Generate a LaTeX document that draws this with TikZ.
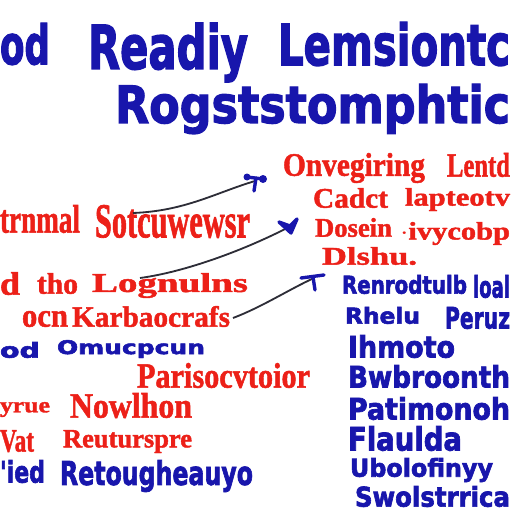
\documentclass[tikz,border=0pt]{standalone}
\usepackage{fontspec}
\usepackage{graphicx}
\newfontfamily\bluefont{DejaVu Sans}[BoldFont={DejaVu Sans Bold}, BoldFeatures={FakeBold=2.5}]
\newfontfamily\redfont{Liberation Serif}[BoldFont={Liberation Serif Bold}, BoldFeatures={FakeBold=1.5}]
\definecolor{inkblue}{RGB}{24,22,172}
\definecolor{inkred}{RGB}{236,32,24}
\definecolor{inkgray}{RGB}{45,45,55}
\newlength\pxunit
\setlength\pxunit{0.025cm}
\newcommand{\fitword}[3]{\resizebox*{#1\pxunit}{#2\pxunit}{#3}}
\tikzset{
	word/.style={anchor=north west, inner sep=0pt, outer sep=0pt},
	bluew/.style={word, text=inkblue, font=\bluefont\bfseries},
	redw/.style={word, text=inkred, font=\redfont\bfseries},
	link/.style={draw=inkgray, line width=1.3pt},
	tipmark/.style={draw=inkblue, line width=2.4pt, line cap=round, line join=round}
}

\begin{document}
\begin{tikzpicture}[x=0.025cm, y=-0.025cm]
	\fill[white] (0,0) rectangle (512,512);
	\useasboundingbox (0,0) rectangle (512,512);

	% title
	\node[bluew] (od) at (0,23) {\fitword{50}{42}{od}};
	\node[bluew] (readiy) at (88,23) {\fitword{160}{59}{Readiy}};
	\node[bluew] (lemsion) at (278,22) {\fitword{232}{44}{Lemsiontc}};
	\node[bluew] (rogst) at (115,84) {\fitword{395}{50}{Rogststomphtic}};

	% left column
	\node[redw] (trnmal) at (0,205) {\fitword{80}{28}{trnmal}};
	\node[redw] (sotcu) at (95,205) {\fitword{155}{33}{Sotcuwewsr}};
	\node[redw] (dd) at (0,272) {\fitword{20}{23}{d}};
	\node[redw] (tho) at (37,273) {\fitword{41}{21}{tho}};
	\node[redw] (lognul) at (92,273) {\fitword{156}{25}{Lognulns}};
	\node[redw] (ocn) at (22,311) {\fitword{46}{16}{ocn}};
	\node[redw] (karba) at (72,306) {\fitword{158}{21}{Karbaocrafs}};
	\node[bluew] (ond) at (0,342) {\fitword{40}{16}{od}};
	\node[bluew] (omuc) at (57,340) {\fitword{148}{18}{Omucpcun}};
	\node[redw] (parisoc) at (137,363) {\fitword{173}{25}{Parisocvtoior}};
	\node[redw] (yrue) at (0,402) {\fitword{50}{15}{yrue}};
	\node[redw] (nowl) at (70,393) {\fitword{122}{25}{Nowlhon}};
	\node[redw] (vat) at (0,430) {\fitword{34}{22}{Vat}};
	\node[redw] (reutur) at (63,430) {\fitword{129}{23}{Reuturspre}};
	\node[bluew] (ied) at (0,460) {\fitword{45}{23}{'ied}};
	\node[bluew] (retoug) at (60,460) {\fitword{193}{32}{Retougheauyo}};

	% right column, red
	\node[redw] (onveg) at (283,153) {\fitword{142}{30}{Onvegiring}};
	\node[redw] (lentd) at (447,153) {\fitword{63}{24}{Lentd}};
	\node[redw] (cadct) at (313,188) {\fitword{75}{20}{Cadct}};
	\node[redw] (lapte) at (405,188) {\fitword{105}{23}{lapteotv}};
	\node[redw] (dosein) at (315,218) {\fitword{77}{19}{Dosein}};
	\node[redw] (ivyco) at (400,222) {\fitword{110}{23}{$\cdot$ivycobp}};
	\node[redw] (dlshu) at (322,247) {\fitword{95}{18}{Dlshu.}};

	% right column, blue
	\node[bluew] (renrod) at (342,275) {\fitword{125}{19}{Renrodtulb}};
	\node[bluew] (loal) at (473,275) {\fitword{37}{23}{loal}};
	\node[bluew] (rhelu) at (345,307) {\fitword{75}{17}{Rhelu}};
	\node[bluew] (peruz) at (445,307) {\fitword{65}{22}{Peruz}};
	\node[bluew] (ihmoto) at (348,335) {\fitword{107}{23}{Ihmoto}};
	\node[bluew] (bwbro) at (348,365) {\fitword{162}{23}{Bwbroonth}};
	\node[bluew] (patim) at (348,397) {\fitword{162}{23}{Patimonoh}};
	\node[bluew] (flaul) at (348,426) {\fitword{114}{25}{Flaulda}};
	\node[bluew] (ubolo) at (350,458) {\fitword{143}{24}{Ubolofinyy}};
	\node[bluew] (swols) at (355,486) {\fitword{155}{21}{Swolstrrica}};

	% connectors
	\coordinate (s1) at (133,213);
	\coordinate (e1) at (255,181);
	\coordinate (s2) at (140,278);
	\coordinate (e2) at (291,226);
	\coordinate (s3) at (233,318);
	\coordinate (e3) at (314,278);

	\draw[link] (s1) .. controls (185,211) and (215,193) .. (e1);
	\draw[link] (s2) .. controls (185,272) and (245,250) .. (e2);
	\draw[link] (s3) .. controls (262,307) and (288,290) .. (e3);

	\draw[tipmark] ([shift={(-8,-4)}]e1) -- ([shift={(8,-2)}]e1);
	\draw[tipmark] ([shift={(1,-3)}]e1) -- ([shift={(-1,10)}]e1);
	\fill[inkblue] ([shift={(-8,-4)}]e1) circle (3.5);
	\fill[inkblue] ([shift={(8,-2)}]e1) circle (4);
	\filldraw[tipmark, fill=inkblue] ([shift={(-12,-4)}]e2) -- ([shift={(-1,0)}]e2) -- ([shift={(6,-7)}]e2) -- ([shift={(0,7)}]e2) -- cycle;
	\draw[tipmark] ([shift={(-13,0)}]e3) -- ([shift={(10,-3)}]e3);
	\draw[tipmark] ([shift={(-1,-1)}]e3) -- ([shift={(1,12)}]e3);
\end{tikzpicture}
\end{document}
